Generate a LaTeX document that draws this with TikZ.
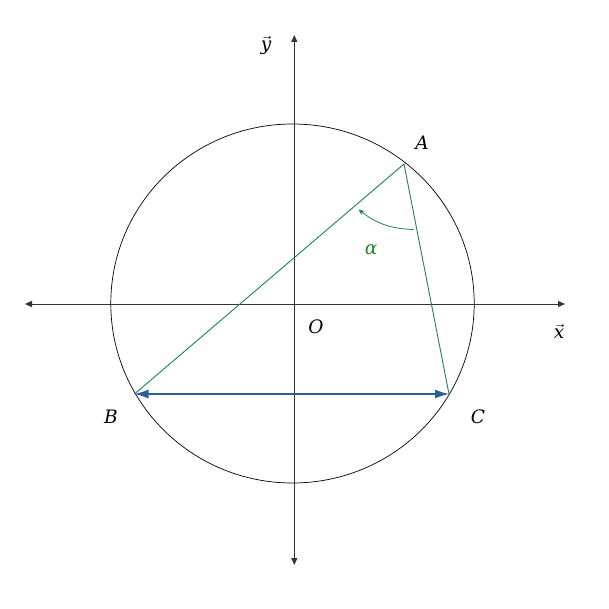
\documentclass[tikz,border=0pt]{standalone}
\usepackage{fontspec}
\setmainfont{DejaVu Serif}
\usetikzlibrary{arrows.meta}
\definecolor{tri}{HTML}{1E8060}
\definecolor{alph}{HTML}{1F8A2A}
\definecolor{chord}{HTML}{2B5F95}
\definecolor{axis}{HTML}{333333}
\tikzset{
  axisline/.style={draw=axis, line width=0.9pt, {Triangle[length=7pt,width=6pt]}-{Triangle[length=7pt,width=6pt]}},
  triline/.style={draw=tri, line width=0.9pt},
  chordline/.style={draw=chord, line width=1.4pt, {Latex[length=14pt,width=9pt]}-{Latex[length=14pt,width=9pt]}},
  lbl/.style={font=\fontsize{18.5}{18.5}\selectfont\itshape, inner sep=0pt},
}
\begin{document}
\begin{tikzpicture}[x=1pt,y=-1pt]
\useasboundingbox[fill=white] (0,0) rectangle (609,609);
\coordinate (O) at (292.5,303.5);
\coordinate (A) at (404,164);
\coordinate (B) at (134.5,394);
\coordinate (C) at (449,394);
\coordinate (xl) at (25,304);
\coordinate (xr) at (565,304);
\coordinate (yb) at (294.3,565);
\coordinate (yt) at (294.3,35);
\coordinate (arcS) at (413.5,229.5);
\coordinate (arcE) at (358.5,209.5);
\draw[black, line width=0.7pt] (O) ellipse [x radius=181.7, y radius=179.5];
\draw[axisline] (xl) -- (xr);
\draw[axisline] (yb) -- (yt);
\draw[triline] (B) -- (A) -- (C);
\draw[chordline] (B) -- (C);
\draw[draw=tri, line width=0.8pt, -{Stealth[length=6pt,width=5pt]}] (arcS) to[bend left=18] (arcE);
\node[lbl] (lA) at (422,143) {A};
\node[lbl] (lB) at (111,417) {B};
\node[lbl] (lC) at (478,417) {C};
\node[lbl] (lO) at (316,327) {O};
\node[lbl] (lx) at (559,331) {$\vec{\mbox{\itshape x}}$};
\node[lbl] (ly) at (266,45) {$\vec{\mbox{\itshape y}}$};
\node[lbl, text=alph] (la) at (371,250) {α};
\end{tikzpicture}
\end{document}
